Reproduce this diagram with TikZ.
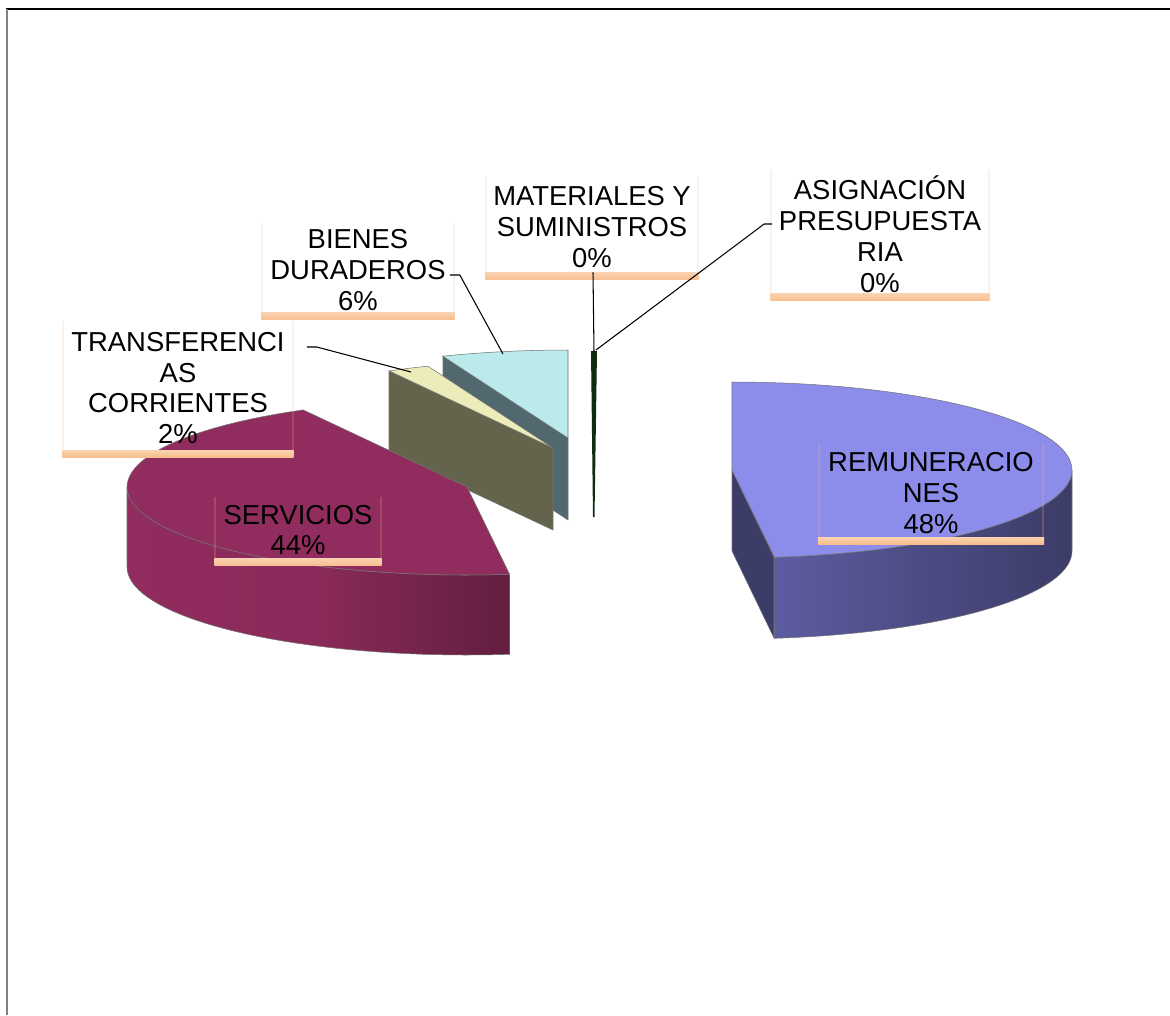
\documentclass[tikz,border=0pt]{standalone}
\usepackage{fontspec}
\setmainfont{Liberation Sans}
\definecolor{RemTop}{RGB}{140,140,235}
\definecolor{RemSide}{RGB}{60,60,104}
\definecolor{RemSideLt}{RGB}{92,92,160}
\definecolor{ServTop}{RGB}{145,44,94}
\definecolor{ServSideDk}{RGB}{98,30,64}
\definecolor{TransTop}{RGB}{236,236,186}
\definecolor{TransSide}{RGB}{100,100,76}
\definecolor{BienTop}{RGB}{186,234,236}
\definecolor{BienSide}{RGB}{80,104,110}
\definecolor{MatSliver}{RGB}{16,44,16}
\definecolor{Glow}{RGB}{248,188,140}
% soft orange frame under a label
\newcommand\glowframe[1]{%
  \fill[Glow,opacity=.2] (#1.north west) rectangle ([xshift=-1.2pt]#1.south west);
  \fill[Glow,opacity=.2] (#1.north east) rectangle ([xshift=1.2pt]#1.south east);
  \shade[top color=Glow!70,bottom color=Glow] ([xshift=-1pt,yshift=2.5pt]#1.south west)
    rectangle ([xshift=1pt,yshift=-1.5pt]#1.south east);}

\begin{document}
\begin{tikzpicture}[x=0.02cm,y=-0.02cm,
      lbl/.style={font=\fontsize{15.6}{17.6}\selectfont,align=center,inner sep=0pt},
      leader/.style={black,line width=0.6pt},
      rim/.style={draw=black!55,line width=0.3pt}]
    \useasboundingbox (0,0) rectangle (1170,1015);
    \draw[black,line width=0.9pt] (6,9) -- (1170,9);
    \draw[gray,line width=1.2pt] (7,9) -- (7,1015);

    % thin slices at the back
    \fill[MatSliver] (591,351) -- (597,351) -- (594.5,517) -- (593,517) -- cycle;
    \filldraw[rim,fill=BienSide] (443,356) -- (568,438) -- (568,520) -- (443,438) -- cycle;
    \filldraw[rim,fill=BienTop] (568,438) -- plot[domain=338.4:360,samples=12]
      ({568+340*sin(\x)},{438-88*cos(\x)}) -- cycle;
    \filldraw[rim,fill=TransSide] (389,371) -- (553,448) -- (553,530) -- (389,453) -- cycle;
    \filldraw[rim,fill=TransTop] (553,448) -- plot[domain=331.2:338.4,samples=6]
      ({553+340*sin(\x)},{448-88*cos(\x)}) -- cycle;

    % servicios
    \shadedraw[rim,left color=ServTop,right color=ServSideDk,middle color=ServTop!85!ServSideDk]
      plot[domain=172.8:270,samples=40] ({467+340*sin(\x)},{487-88*cos(\x)})
      -- plot[domain=270:172.8,samples=40] ({467+340*sin(\x)},{567-88*cos(\x)}) -- cycle;
    \filldraw[rim,fill=ServTop] (467,487) -- plot[domain=172.8:331.2,samples=60]
      ({467+340*sin(\x)},{487-88*cos(\x)}) -- cycle;

    % remuneraciones
    \filldraw[rim,fill=RemSide] (732,470) -- (774,557) -- (774,638) -- (732,551) -- cycle;
    \shadedraw[rim,left color=RemSideLt,right color=RemSide]
      plot[domain=90:172.8,samples=40] ({732+340*sin(\x)},{470-88*cos(\x)})
      -- plot[domain=172.8:90,samples=40] ({732+340*sin(\x)},{551-88*cos(\x)}) -- cycle;
    \filldraw[rim,fill=RemTop] (732,470) -- plot[domain=0:172.8,samples=60]
      ({732+340*sin(\x)},{470-88*cos(\x)}) -- cycle;

    % labels
    \node[lbl,minimum width=4.54cm,minimum height=2.66cm] (trans) at (178,388)
      {TRANSFERENCI\\AS\\CORRIENTES\\2\%};
    \node[lbl,minimum width=3.78cm,minimum height=1.88cm] (bienes) at (358,270)
      {BIENES\\DURADEROS\\6\%};
    \node[lbl,minimum width=4.18cm,minimum height=2.0cm] (mat) at (592,227)
      {MATERIALES Y\\SUMINISTROS\\0\%};
    \node[lbl,minimum width=4.3cm,minimum height=2.56cm] (asig) at (880,234)
      {ASIGNACIÓN\\PRESUPUESTA\\RIA\\0\%};
    \node[lbl,minimum width=4.44cm,minimum height=1.94cm] (rem) at (931,493)
      {REMUNERACIO\\NES\\48\%};
    \node[lbl,minimum width=3.26cm,minimum height=1.32cm] (serv) at (298,530)
      {SERVICIOS\\44\%};
    \glowframe{trans} \glowframe{bienes} \glowframe{mat}
    \glowframe{asig} \glowframe{rem} \glowframe{serv}

    % leader lines
    \coordinate (transtip) at (411,372);
    \coordinate (bientip) at (503,354);
    \coordinate (mattip) at (594,352);
    \coordinate (asigtip) at (596,350);
    \draw[leader] (trans.east) ++(15,-41) -- ++(10,0) -- (transtip);
    \draw[leader] (bienes.east) ++(-3,5) -- ++(10,0) -- (bientip);
    \draw[leader] (mat.south) ++(1,-5) -- (mattip);
    \draw[leader] (asig.west) ++(0,-10) -- ++(-8,0) -- (asigtip);
  \end{tikzpicture}
\end{document}
